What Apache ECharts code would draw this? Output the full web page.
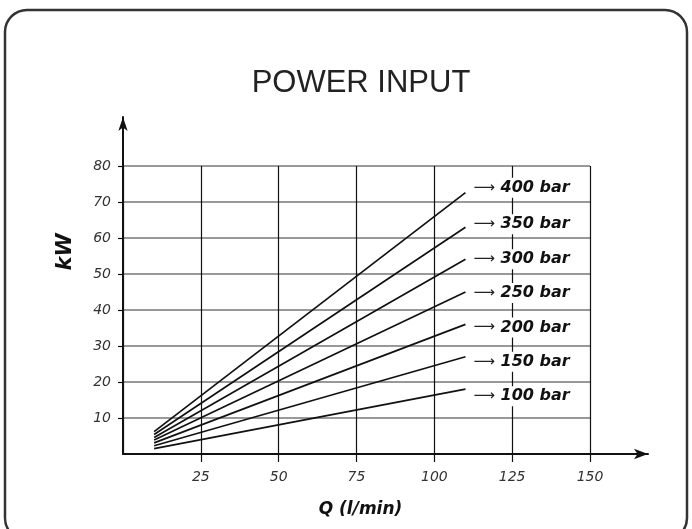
<!DOCTYPE html>
<html>
<head>
<meta charset="utf-8">
<script src="https://cdn.jsdelivr.net/npm/echarts@6/dist/echarts.min.js"></script>
<style>
html,body{margin:0;padding:0;background:#fff;}
#c{width:692px;height:529px;}
</style>
</head>
<body>
<div id="c"></div>
<script>
// Data
const flowQ = [10, 110];                       // l/min, start and end of each curve
const pressures = [100, 150, 200, 250, 300, 350, 400]; // bar
const kwAtStart = [1.5, 2.3, 3.1, 3.9, 4.6, 5.4, 6.2];
const kwAtEnd = [18.0, 27.0, 36.0, 45.0, 54.1, 63.0, 72.6];
const xTicks = [25, 50, 75, 100, 125, 150];
const yTicks = [10, 20, 30, 40, 50, 60, 70, 80];

// styling: vertical nudge of each end label
const labelNudge = [7, 5, 3, 1, 0, -3, -5];

const chart = echarts.init(document.getElementById('c'));

const series = pressures.map((p, i) => ({
  type: 'line',
  xAxisIndex: 0, yAxisIndex: 0,
  data: [[flowQ[0], kwAtStart[i]], [flowQ[1], kwAtEnd[i]]],
  symbol: 'none',
  lineStyle: { color: '#111', width: 1.7 },
  silent: true,
  animation: false,
  z: 3,
  endLabel: {
    show: true,
    distance: 8,
    offset: [0, labelNudge[i]],
    formatter: '{a|⟶}{b| ' + p + ' bar}',
    backgroundColor: '#fff',
    padding: [2, 2, 2, 0],
    rich: {
      a: { fontFamily: 'DejaVu Sans', fontSize: 15, color: '#222' },
      b: { fontFamily: 'DejaVu Sans', fontSize: 16, fontWeight: 'bold', fontStyle: 'italic', color: '#111' }
    }
  }
}));

const option = {
  animation: false,
  title: {
    text: 'POWER INPUT',
    left: 356, top: 63, textAlign: 'center',
    textStyle: { fontFamily: 'Liberation Sans', fontSize: 31, fontWeight: 'normal', color: '#222' }
  },
  graphic: [{
    type: 'rect',
    shape: { x: 5, y: 10, width: 682, height: 530, r: 22 },
    style: { fill: 'none', stroke: '#333', lineWidth: 2.5 },
    silent: true
  }],
  grid: [
    { left: 123, right: 102, top: 166, bottom: 75 },
    { left: 123, right: 44, top: 117, bottom: 75 }
  ],
  xAxis: [{
    type: 'value', gridIndex: 0, min: 0, max: 150, interval: 25,
    axisLine: { show: false },
    axisTick: { show: true, length: 8, lineStyle: { color: '#111', width: 1.2 } },
    axisLabel: {
      margin: 16, showMinLabel: false,
      fontFamily: 'DejaVu Sans', fontStyle: 'italic', fontSize: 14, color: '#333',
      formatter: v => xTicks.includes(v) ? String(v) : ''
    },
    splitLine: { show: true, lineStyle: { color: '#111', width: 1.2 } },
    name: 'Q (l/min)', nameLocation: 'middle', nameGap: 47,
    nameTextStyle: { fontFamily: 'DejaVu Sans', fontWeight: 'bold', fontStyle: 'italic', fontSize: 17, color: '#111', padding: [0, 0, 0, 8] }
  }, {
    type: 'value', gridIndex: 1, min: 0, max: 1,
    axisLine: { show: true, symbol: ['none', 'arrow'], symbolSize: [8, 14], lineStyle: { color: '#111', width: 2 } },
    axisTick: { show: false }, axisLabel: { show: false }, splitLine: { show: false }
  }],
  yAxis: [{
    type: 'value', gridIndex: 0, min: 0, max: 80, interval: 10,
    axisLine: { show: false },
    axisTick: { show: true, length: 5, lineStyle: { color: '#111', width: 1.2 } },
    axisLabel: {
      margin: 12, showMinLabel: false,
      fontFamily: 'DejaVu Sans', fontStyle: 'italic', fontSize: 14, color: '#333',
      formatter: v => yTicks.includes(v) ? String(v) : ''
    },
    splitLine: { show: true, lineStyle: { color: '#777', width: 1.6 } },
    name: 'kW', nameLocation: 'middle', nameGap: 47, nameRotate: 90,
    nameTextStyle: { fontFamily: 'DejaVu Sans', fontWeight: 'bold', fontStyle: 'italic', fontSize: 21, color: '#111', padding: [0, 0, 0, 116] }
  }, {
    type: 'value', gridIndex: 1, min: 0, max: 1,
    axisLine: { show: true, symbol: ['none', 'arrow'], symbolSize: [7, 14], lineStyle: { color: '#111', width: 2 } },
    axisTick: { show: false }, axisLabel: { show: false }, splitLine: { show: false }
  }],
  series: series
};
chart.setOption(option);
</script>
</body>
</html>
